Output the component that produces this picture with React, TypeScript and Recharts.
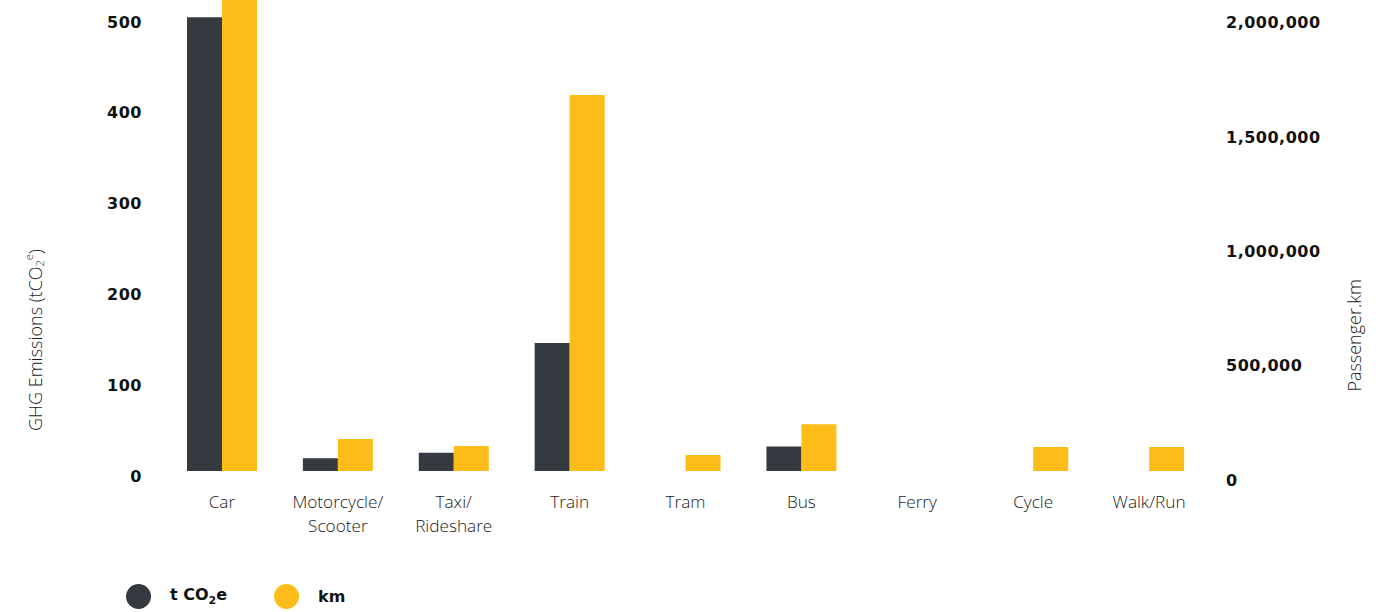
import React from "react";
import { BarChart, Bar, XAxis, YAxis, Legend } from "recharts";

const categories = [
  "Car",
  "Motorcycle/\nScooter",
  "Taxi/\nRideshare",
  "Train",
  "Tram",
  "Bus",
  "Ferry",
  "Cycle",
  "Walk/Run",
];
const emissions = [500, 14, 20, 141, 0, 27, 0, 0, 0];
const distance = [2250000, 140000, 109000, 1645000, 70000, 205000, 0, 105000, 105000];
const leftTicks = [0, 100, 200, 300, 400, 500];
const rightTicks = [0, 500000, 1000000, 1500000, 2000000];

const DARK = "#353940";
const YELLOW = "#fdbc17";
const LIGHT_FONT = "'Open Sans', Lato, sans-serif";
const BOLD_FONT = "'DejaVu Sans', 'Open Sans', sans-serif";

const data = categories.map((name, i) => ({
  name,
  tco2e: emissions[i],
  km: distance[i],
}));

function CategoryTick(props: any) {
  const { x, y, payload } = props;
  const lines = String(payload.value).split("\n");
  return (
    <g>
      {lines.map((line, i) => (
        <text
          key={i}
          x={x}
          y={y + 37 + i * 23.5}
          textAnchor="middle"
          fontFamily={LIGHT_FONT}
          fontWeight={300}
          fontSize={17.2}
          fill="#1a1a1a"
        >
          {line}
        </text>
      ))}
    </g>
  );
}

function LeftTick(props: any) {
  const { x, y, payload } = props;
  return (
    <text
      x={x}
      y={y + 5}
      textAnchor="end"
      dominantBaseline="central"
      fontFamily={BOLD_FONT}
      fontWeight={700}
      fontSize={16}
      letterSpacing={0.5}
      fill="#111"
    >
      {payload.value}
    </text>
  );
}

function RightTick(props: any) {
  const { x, y, payload } = props;
  return (
    <text
      x={x}
      y={y + 9}
      textAnchor="start"
      dominantBaseline="central"
      fontFamily={BOLD_FONT}
      fontWeight={700}
      fontSize={16}
      letterSpacing={0.5}
      fill="#111"
    >
      {Number(payload.value).toLocaleString("en-US")}
    </text>
  );
}

function LeftTitle(props: any) {
  const { viewBox } = props;
  const cx = viewBox.x + 35;
  const cy = viewBox.y + viewBox.height * 0.722;
  return (
    <text
      x={cx}
      y={cy}
      transform={`rotate(-90, ${cx}, ${cy})`}
      textAnchor="middle"
      dominantBaseline="central"
      fontFamily={LIGHT_FONT}
      fontWeight={300}
      fontSize={18}
      fill="#1a1a1a"
    >
      GHG Emissions (tCO
      <tspan dy={4} fontSize={11}>2</tspan>
      <tspan dy={-11} fontSize={11}>e</tspan>
      <tspan dy={7}>)</tspan>
    </text>
  );
}

function RightTitle(props: any) {
  const { viewBox } = props;
  const cx = viewBox.x + 147;
  const cy = viewBox.y + viewBox.height * 0.712;
  return (
    <text
      x={cx}
      y={cy}
      transform={`rotate(-90, ${cx}, ${cy})`}
      textAnchor="middle"
      dominantBaseline="central"
      fontFamily={LIGHT_FONT}
      fontWeight={300}
      fontSize={18}
      fill="#1a1a1a"
    >
      Passenger.km
    </text>
  );
}

function LegendContent() {
  const item = (color: string, label: React.ReactNode, gap: number) => (
    <div style={{ display: "flex", alignItems: "center", marginRight: gap }}>
      <span
        style={{
          width: 25,
          height: 25,
          borderRadius: "50%",
          background: color,
          display: "inline-block",
          marginRight: 19,
        }}
      />
      <span style={{ fontWeight: 700, fontSize: 16, color: "#111" }}>{label}</span>
    </div>
  );
  return (
    <div
      style={{
        display: "flex",
        alignItems: "center",
        height: 36,
        paddingLeft: 126,
        paddingTop: 4,
        boxSizing: "border-box",
        fontFamily: BOLD_FONT,
      }}
    >
      {item(
        DARK,
        <>
          t CO<sub style={{ fontSize: 11, verticalAlign: -4 }}>2</sub>e
        </>,
        47
      )}
      {item(YELLOW, "km", 0)}
    </div>
  );
}

export default function App() {
  return (
    <div style={{ position: "absolute", left: 0, top: 0, background: "#fff" }}>
      <BarChart
        width={1391}
        height={612}
        data={data}
        margin={{ top: 0, right: 0, bottom: 0, left: 0 }}
        barGap={0}
        barSize={35}
      >
        <XAxis
          dataKey="name"
          axisLine={false}
          tickLine={false}
          tickSize={0}
          tickMargin={0}
          height={105}
          interval={0}
          tick={<CategoryTick />}
        />
        <YAxis
          yAxisId="left"
          orientation="left"
          width={164}
          domain={[0, 519]}
          ticks={leftTicks}
          allowDataOverflow
          axisLine={false}
          tickLine={false}
          tickSize={0}
          tickMargin={22}
          tick={<LeftTick />}
          label={{ content: <LeftTitle /> }}
        />
        <YAxis
          yAxisId="right"
          orientation="right"
          width={184}
          domain={[0, 2061000]}
          ticks={rightTicks}
          allowDataOverflow
          axisLine={false}
          tickLine={false}
          tickSize={0}
          tickMargin={19}
          tick={<RightTick />}
          label={{ content: <RightTitle /> }}
        />
        <Legend
          verticalAlign="bottom"
          align="left"
          wrapperStyle={{ left: 0, bottom: 0 }}
          content={<LegendContent />}
        />
        <Bar yAxisId="left" dataKey="tco2e" name="t CO2e" fill={DARK} isAnimationActive={false} />
        <Bar yAxisId="right" dataKey="km" name="km" fill={YELLOW} isAnimationActive={false} />
      </BarChart>
    </div>
  );
}
